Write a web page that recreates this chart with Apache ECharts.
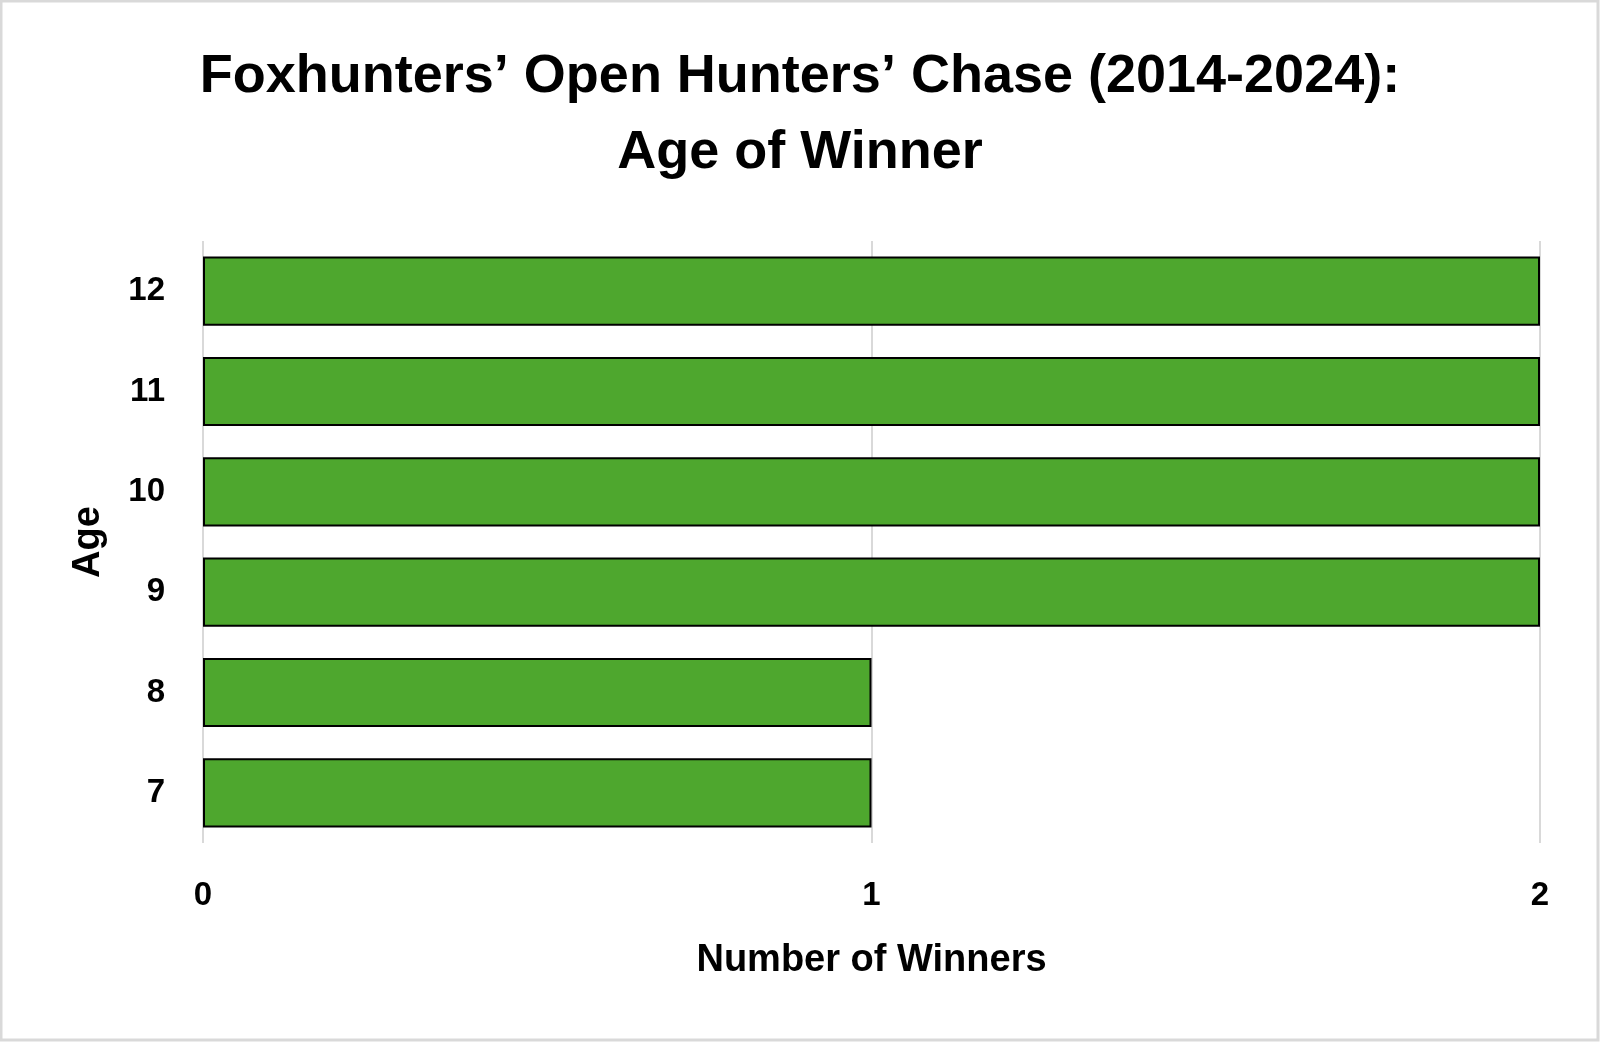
<!DOCTYPE html>
<html>
<head>
<meta charset="utf-8">
<title>Foxhunters' Open Hunters' Chase - Age of Winner</title>
<script src="https://cdn.jsdelivr.net/npm/echarts@6/dist/echarts.min.js"></script>
<style>
  html, body { margin: 0; padding: 0; background: #fff; }
  #chart { width: 1600px; height: 1042px; }
</style>
</head>
<body>
<div id="chart"></div>
<script>
// ages (bottom to top) and number of winners
var ages = ['7', '8', '9', '10', '11', '12'];
var winners = [1, 1, 2, 2, 2, 2];
var xTicks = [0, 1, 2];

var fontName = "'Liberation Sans', Arial, sans-serif";

var chart = echarts.init(document.getElementById('chart'));

var option = {
    backgroundColor: '#ffffff',
    animation: false,
    title: {
        text: 'Foxhunters\u2019 Open Hunters\u2019 Chase (2014-2024):\nAge of Winner',
        left: 'center',
        top: 34,
        textStyle: {
            fontFamily: fontName,
            fontWeight: 'bold',
            fontSize: 54,
            lineHeight: 76,
            color: '#000'
        }
    },
    graphic: [{
        type: 'rect',
        shape: { x: 1, y: 1, width: 1597, height: 1039 },
        style: { fill: 'none', stroke: '#d9d9d9', lineWidth: 3 },
        silent: true
    }],
    grid: {
        left: 203,
        right: 60,
        top: 241,
        bottom: 199,
        containLabel: false
    },
    xAxis: {
        type: 'value',
        min: xTicks[0],
        max: xTicks[xTicks.length - 1],
        interval: 1,
        name: 'Number of Winners',
        nameLocation: 'middle',
        nameGap: 99,
        nameTextStyle: {
            fontFamily: fontName,
            fontWeight: 'bold',
            fontSize: 38,
            color: '#000'
        },
        axisLine: { show: false },
        axisTick: { show: false },
        axisLabel: {
            margin: 36,
            fontFamily: fontName,
            fontWeight: 'bold',
            fontSize: 33,
            color: '#000'
        },
        splitLine: {
            show: true,
            lineStyle: { color: '#d9d9d9', width: 2 }
        }
    },
    yAxis: {
        type: 'category',
        data: ages,
        name: 'Age',
        nameLocation: 'middle',
        nameGap: 95,
        nameRotate: 90,
        nameTextStyle: {
            fontFamily: fontName,
            fontWeight: 'bold',
            fontSize: 38,
            color: '#000'
        },
        axisLine: { show: false },
        axisTick: { show: false },
        axisLabel: {
            margin: 38,
            fontFamily: fontName,
            fontWeight: 'bold',
            fontSize: 33,
            color: '#000'
        }
    },
    series: [{
        type: 'bar',
        data: winners,
        barCategoryGap: '31%',
        itemStyle: {
            color: '#4ea72e',
            borderColor: '#000',
            borderWidth: 2
        }
    }]
};

chart.setOption(option);
</script>
</body>
</html>
